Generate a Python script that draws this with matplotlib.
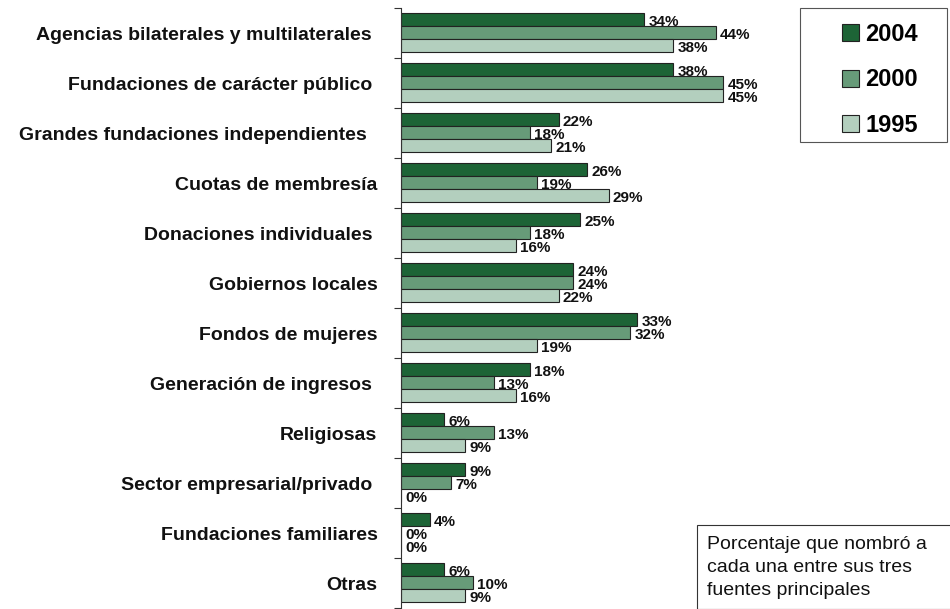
import numpy as np
import matplotlib.pyplot as plt
from matplotlib.patches import Rectangle

plt.rcParams['font.family'] = ['Liberation Sans', 'DejaVu Sans']

categories = ['Agencias bilaterales y multilaterales ',
              'Fundaciones de carácter público ',
              'Grandes fundaciones independientes  ',
              'Cuotas de membresía',
              'Donaciones individuales ',
              'Gobiernos locales',
              'Fondos de mujeres',
              'Generación de ingresos ',
              'Religiosas',
              'Sector empresarial/privado ',
              'Fundaciones familiares',
              'Otras']
v2004 = [34, 38, 22, 26, 25, 24, 33, 18, 6, 9, 4, 6]
v2000 = [44, 45, 18, 19, 18, 24, 32, 13, 13, 7, 0, 10]
v1995 = [38, 45, 21, 29, 16, 22, 19, 16, 9, 0, 0, 9]
years = ['2004', '2000', '1995']
colors = ['#1d6436', '#679b79', '#b3cfbe']
note = 'Porcentaje que nombró a\ncada una entre sus tres\nfuentes principales'

W, H = 950, 609
fig = plt.figure(figsize=(W / 100, H / 100), dpi=100)
ax = fig.add_axes([401 / W, 1 / H, 549 / W, 600 / H])

n = len(categories)
idx = np.arange(n)
bar_h = 0.26
offsets = [0.22, 0.48, 0.74]
series = [v2004, v2000, v1995]

for vals, off, col, yr in zip(series, offsets, colors, years):
    ax.barh(idx + off, vals, height=bar_h, color=col,
            edgecolor='#222222', linewidth=0.8, label=yr)
    # value labels sit tight against the bar ends, as in the original
    for y, v in zip(idx + off, vals):
        ax.annotate(f'{v}%', (v, y), xytext=(3, -2), textcoords='offset points',
                    ha='left', va='center', fontsize=11, fontweight='bold',
                    color='#111111')

ax.set_xlim(0, 549 / 7.16)
ax.set_ylim(n, 0)

# category labels at centres, tick marks at boundaries
ax.set_yticks(idx + 0.5)
ax.set_yticklabels(categories, fontsize=14, fontweight='bold', color='#111111')
ax.tick_params(axis='y', which='major', length=0, pad=17)
ax.set_yticks(np.arange(n + 1), minor=True)
ax.tick_params(axis='y', which='minor', length=5, width=0.8, color='#333333')
ax.set_xticks([])
for s in ['top', 'right', 'bottom']:
    ax.spines[s].set_visible(False)
ax.spines['left'].set_linewidth(0.8)
ax.spines['left'].set_color('#333333')

# legend box
fig.patches.append(Rectangle((800 / W, 1 - 142 / H), 147 / W, 134 / H,
                             transform=fig.transFigure, fill=False,
                             edgecolor='#555555', linewidth=0.8))
fig.legend(loc='center', bbox_to_anchor=(880 / W, 1 - 80 / H),
           frameon=False, prop={'size': 17, 'weight': 'bold'},
           handlelength=0.72, handleheight=0.72, handletextpad=0.25,
           labelspacing=0.95)

# note box
fig.patches.append(Rectangle((697 / W, 0), 260 / W, 84 / H,
                             transform=fig.transFigure, fill=False,
                             edgecolor='#333333', linewidth=0.8))
fig.text(707 / W, 1 - 536 / H, note, ha='left', va='top', fontsize=14,
         color='#111111', linespacing=1.45)

fig.savefig('out.png', dpi=100)
